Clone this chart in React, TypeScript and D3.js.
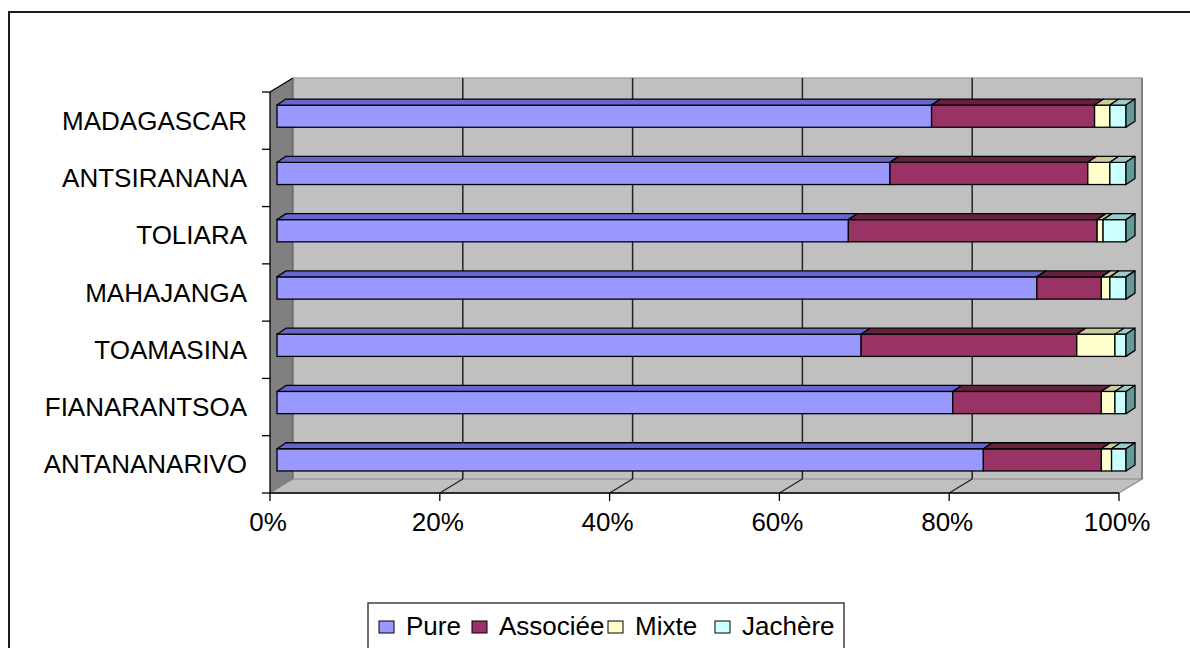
import React from "react";
import * as d3 from "d3";

// categories listed bottom -> top
const CATEGORIES = [
  "ANTANANARIVO",
  "FIANARANTSOA",
  "TOAMASINA",
  "MAHAJANGA",
  "TOLIARA",
  "ANTSIRANANA",
  "MADAGASCAR",
];
const PURE = [83.2, 79.6, 68.8, 89.5, 67.3, 72.2, 77.1];
const ASSOCIEE = [13.9, 17.5, 25.4, 7.6, 29.3, 23.3, 19.2];
const MIXTE = [1.2, 1.6, 4.5, 1.0, 0.7, 2.6, 1.8];
const JACHERE = [1.7, 1.3, 1.3, 1.9, 2.7, 1.9, 1.9];

const SERIES = ["Pure", "Associée", "Mixte", "Jachère"];
const X_TICKS = [0, 0.2, 0.4, 0.6, 0.8, 1];

const FACE = ["#9999FF", "#993366", "#FFFFCC", "#CCFFFF"];
const TOP = ["#6666CC", "#66213F", "#CCCC99", "#99CCCC"];
const SIDE = "#669999";

const W = 1190;
const H = 648;
// front plane of the 3D box
const FX0 = 270;
const FX1 = 1119;
const FY0 = 92;
const FY1 = 493;
// wall depth
const DX = 23;
const DY = -14;
// bar position in depth
const BDX0 = 7;
const BDY0 = -4.5;
const BDX = 9;
const BDY = -6;

const FONT = "'Liberation Sans', Arial, sans-serif";
const FS = 26;

const LEGEND_X = [379, 472, 608, 715];

export default function App() {
  const rows = CATEGORIES.map((c, i) => ({
    cat: c,
    Pure: PURE[i],
    "Associée": ASSOCIEE[i],
    Mixte: MIXTE[i],
    "Jachère": JACHERE[i],
  }));

  const stack = d3.stack<any>().keys(SERIES).offset(d3.stackOffsetExpand);
  const series = stack(rows);

  const x = d3.scaleLinear().domain([0, 1]).range([FX0, FX1]);
  const y = d3
    .scaleBand()
    .domain([...CATEGORIES].reverse())
    .range([FY0, FY1])
    .paddingInner(0.612)
    .paddingOuter(0.306);
  const step = y.step();
  const bw = y.bandwidth();
  const yTicks = d3.range(CATEGORIES.length + 1).map((k) => FY0 + k * step);

  const pts = (p: number[][]) => p.map((q) => q.join(",")).join(" ");

  const bars = rows.map((r, j) => {
    const yTop = (y(r.cat) as number) + BDY0;
    const segs = series.map((s, i) => {
      const x1 = x(s[j][0]) + BDX0;
      const x2 = x(s[j][1]) + BDX0;
      const last = i === series.length - 1;
      return (
        <g key={i}>
          <rect
            x={x1}
            y={yTop}
            width={x2 - x1}
            height={bw}
            fill={FACE[i]}
            stroke="#000"
            strokeWidth={1.3}
          />
          <polygon
            points={pts([
              [x1, yTop],
              [x2, yTop],
              [x2 + BDX, yTop + BDY],
              [x1 + BDX, yTop + BDY],
            ])}
            fill={TOP[i]}
            stroke="#000"
            strokeWidth={1.3}
            strokeLinejoin="round"
          />
          {last && (
            <polygon
              points={pts([
                [x2, yTop],
                [x2 + BDX, yTop + BDY],
                [x2 + BDX, yTop + BDY + bw],
                [x2, yTop + bw],
              ])}
              fill={SIDE}
              stroke="#000"
              strokeWidth={1.3}
              strokeLinejoin="round"
            />
          )}
        </g>
      );
    });
    return <g key={r.cat}>{segs}</g>;
  });

  return (
    <svg
      width={W}
      height={H}
      style={{ position: "absolute", left: 0, top: 0, background: "#fff" }}
    >
      {/* outer frame */}
      <path d={`M9,${H} L9,12 L${W},12`} fill="none" stroke="#1a1a1a" strokeWidth={2} />

      {/* back wall */}
      <rect
        x={FX0 + DX}
        y={FY0 + DY}
        width={FX1 - FX0}
        height={FY1 - FY0}
        fill="#C0C0C0"
      />
      <line x1={FX0 + DX} x2={FX1 + DX} y1={FY0 + DY} y2={FY0 + DY} stroke="#a6a6a6" strokeWidth={1.5} />
      <line x1={FX1 + DX} x2={FX1 + DX} y1={FY0 + DY} y2={FY1 + DY} stroke="#808080" strokeWidth={2} />

      {/* floor */}
      <polygon
        points={pts([
          [FX0, FY1],
          [FX0 + DX, FY1 + DY],
          [FX1 + DX, FY1 + DY],
          [FX1, FY1],
        ])}
        fill="#C0C0C0"
        stroke="#8a8a8a"
        strokeWidth={1.2}
      />

      {/* left wall */}
      <polygon
        points={pts([
          [FX0, FY0],
          [FX0 + DX, FY0 + DY],
          [FX0 + DX, FY1 + DY],
          [FX0, FY1],
        ])}
        fill="#808080"
      />
      <line x1={FX0} y1={FY0} x2={FX0 + DX} y2={FY0 + DY} stroke="#000" strokeWidth={1.3} />
      <line x1={FX0 + DX} y1={FY0 + DY} x2={FX0 + DX} y2={FY1 + DY} stroke="#555" strokeWidth={1} />

      {/* gridlines */}
      {X_TICKS.slice(1, -1).map((t) => (
        <g key={t}>
          <line x1={x(t) + DX} x2={x(t) + DX} y1={FY0 + DY} y2={FY1 + DY} stroke="#222" strokeWidth={1.5} />
          <line x1={x(t) + DX} x2={x(t)} y1={FY1 + DY} y2={FY1} stroke="#222" strokeWidth={1.3} />
        </g>
      ))}

      {/* axes */}
      <line x1={FX0} x2={FX0} y1={FY0} y2={FY1} stroke="#000" strokeWidth={1.3} />
      <line x1={FX0} x2={FX1} y1={FY1} y2={FY1} stroke="#000" strokeWidth={1.3} />
      {yTicks.map((t, i) => (
        <line key={i} x1={FX0 - 8} x2={FX0} y1={t} y2={t} stroke="#000" strokeWidth={1.3} />
      ))}
      {X_TICKS.map((t) => (
        <g key={t}>
          <line x1={x(t)} x2={x(t)} y1={FY1} y2={FY1 + 8} stroke="#000" strokeWidth={1.3} />
          <text
            x={x(t) - 2}
            y={531}
            textAnchor="middle"
            fontFamily={FONT}
            fontSize={FS}
            fill="#000"
          >
            {d3.format(".0%")(t)}
          </text>
        </g>
      ))}
      {CATEGORIES.map((c) => (
        <text
          key={c}
          x={247}
          y={(y(c) as number) + bw / 2 + 9}
          textAnchor="end"
          fontFamily={FONT}
          fontSize={FS}
          fill="#000"
        >
          {c}
        </text>
      ))}

      {bars}

      {/* legend */}
      <rect x={368} y={603} width={476} height={60} fill="#fff" stroke="#404040" strokeWidth={1.5} />
      {SERIES.map((s, i) => (
        <g key={s}>
          <rect
            x={LEGEND_X[i]}
            y={621}
            width={15}
            height={12}
            fill={FACE[i]}
            stroke="#000"
            strokeWidth={1}
          />
          <text x={LEGEND_X[i] + 27} y={635} fontFamily={FONT} fontSize={FS} fill="#000">
            {s}
          </text>
        </g>
      ))}
    </svg>
  );
}
